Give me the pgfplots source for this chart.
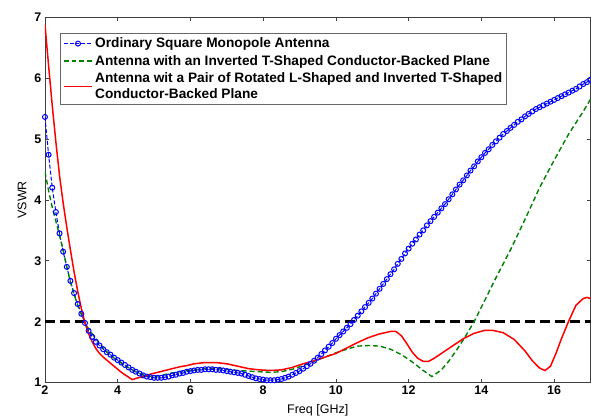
\documentclass[border=0pt]{standalone}
\usepackage{fontspec}
\setmainfont{Liberation Sans}
\usepackage{pgfplots}
\pgfplotsset{compat=1.18}
\definecolor{mgreen}{rgb}{0,0.5,0}
\pgfplotstableread{
x y
2.0 5.36
2.1 4.74
2.2 4.20
2.3 3.80
2.4 3.45
2.5 3.15
2.6 2.90
2.7 2.67
2.8 2.47
2.9 2.29
3.0 2.13
3.1 1.98
3.2 1.85
3.3 1.75
3.4 1.67
3.5 1.61
3.6 1.55
3.7 1.50
3.8 1.46
3.9 1.41
4.0 1.37
4.1 1.33
4.2 1.29
4.3 1.25
4.4 1.21
4.5 1.18
4.6 1.15
4.7 1.12
4.8 1.10
4.9 1.09
5.0 1.08
5.1 1.08
5.2 1.08
5.3 1.09
5.4 1.10
5.5 1.12
5.6 1.13
5.7 1.15
5.8 1.16
5.9 1.18
6.0 1.19
6.1 1.20
6.2 1.21
6.3 1.21
6.4 1.22
6.5 1.22
6.6 1.22
6.7 1.21
6.8 1.21
6.9 1.20
7.0 1.19
7.1 1.18
7.2 1.17
7.3 1.16
7.4 1.15
7.5 1.13
7.6 1.11
7.7 1.09
7.8 1.07
7.9 1.06
8.0 1.05
8.1 1.04
8.2 1.04
8.3 1.04
8.4 1.05
8.5 1.06
8.6 1.08
8.7 1.10
8.8 1.13
8.9 1.16
9.0 1.19
9.1 1.23
9.2 1.27
9.3 1.31
9.4 1.36
9.5 1.41
9.6 1.47
9.7 1.53
9.8 1.59
9.9 1.65
10.0 1.72
10.1 1.78
10.2 1.84
10.3 1.90
10.4 1.96
10.5 2.03
10.6 2.10
10.7 2.17
10.8 2.24
10.9 2.31
11.0 2.38
11.1 2.46
11.2 2.54
11.3 2.62
11.4 2.70
11.5 2.78
11.6 2.86
11.7 2.95
11.8 3.03
11.9 3.12
12.0 3.20
12.1 3.28
12.2 3.35
12.3 3.43
12.4 3.50
12.5 3.58
12.6 3.65
12.7 3.72
12.8 3.79
12.9 3.86
13.0 3.93
13.1 4.01
13.2 4.09
13.3 4.17
13.4 4.25
13.5 4.32
13.6 4.40
13.7 4.48
13.8 4.55
13.9 4.63
14.0 4.70
14.1 4.77
14.2 4.83
14.3 4.90
14.4 4.96
14.5 5.02
14.6 5.08
14.7 5.13
14.8 5.18
14.9 5.23
15.0 5.28
15.1 5.32
15.2 5.37
15.3 5.41
15.4 5.45
15.5 5.49
15.6 5.52
15.7 5.55
15.8 5.58
15.9 5.61
16.0 5.64
16.1 5.67
16.2 5.70
16.3 5.73
16.4 5.76
16.5 5.79
16.6 5.82
16.7 5.86
16.8 5.90
16.9 5.93
17.0 5.97
}\ordinary
\pgfplotstableread{
x y
2.0 4.46
2.1 4.15
2.2 3.88
2.3 3.65
2.4 3.42
2.5 3.18
2.6 2.90
2.7 2.65
2.8 2.45
2.9 2.27
3.0 2.12
3.1 1.99
3.2 1.88
3.4 1.72
3.6 1.57
3.8 1.45
4.0 1.36
4.2 1.28
4.4 1.21
4.6 1.15
4.8 1.11
5.0 1.10
5.2 1.12
5.5 1.16
5.8 1.19
6.1 1.21
6.4 1.23
6.7 1.24
7.0 1.22
7.3 1.20
7.6 1.19
7.9 1.18
8.2 1.17
8.5 1.18
8.8 1.22
9.1 1.28
9.4 1.35
9.7 1.42
10.0 1.49
10.3 1.55
10.6 1.60
10.9 1.61
11.2 1.60
11.5 1.55
11.8 1.46
12.1 1.34
12.4 1.20
12.64 1.10
12.9 1.21
13.1 1.35
13.3 1.52
13.5 1.70
13.8 2.00
14.0 2.24
14.4 2.72
14.8 3.18
15.2 3.68
15.6 4.20
16.0 4.65
16.4 5.08
16.8 5.45
17.0 5.65
}\tshaped
\pgfplotstableread{
x y
2.0 6.88
2.1 6.20
2.2 5.55
2.3 4.95
2.4 4.40
2.5 3.95
2.6 3.55
2.7 3.18
2.8 2.82
2.9 2.50
3.0 2.22
3.1 1.98
3.2 1.80
3.3 1.67
3.4 1.56
3.5 1.48
3.6 1.42
3.7 1.37
3.8 1.32
3.9 1.27
4.0 1.22
4.1 1.17
4.2 1.13
4.3 1.09
4.4 1.05
4.5 1.07
4.7 1.10
4.9 1.14
5.1 1.17
5.3 1.20
5.5 1.23
5.7 1.26
5.9 1.28
6.1 1.31
6.4 1.33
6.7 1.33
7.0 1.31
7.3 1.27
7.6 1.23
7.9 1.21
8.2 1.20
8.5 1.21
8.8 1.25
9.1 1.31
9.4 1.36
9.7 1.42
10.0 1.48
10.3 1.57
10.6 1.66
10.9 1.74
11.2 1.80
11.5 1.84
11.65 1.84
11.8 1.77
11.95 1.64
12.1 1.50
12.25 1.40
12.4 1.35
12.55 1.35
12.7 1.40
12.9 1.48
13.2 1.60
13.5 1.72
13.8 1.81
14.1 1.86
14.3 1.86
14.6 1.82
14.9 1.71
15.2 1.52
15.4 1.36
15.6 1.24
15.75 1.20
15.9 1.27
16.05 1.48
16.2 1.72
16.4 2.01
16.6 2.27
16.8 2.38
16.9 2.40
17.0 2.38
}\rotated
\begin{document}
\begin{tikzpicture}
\useasboundingbox (-45pt,-35pt) rectangle (546.5pt,383pt);
\begin{axis}[
  scale only axis, width=546pt, height=366pt,
  at={(0,0)}, anchor=south west,
  xmin=2, xmax=17, ymin=1, ymax=7,
  xtick={2,4,...,16}, ytick={1,2,...,7},
  tick align=inside, tick pos=both,
  major tick length=4pt,
  axis line style={black!75, line width=0.6pt},
  tick style={black!75, line width=0.6pt},
  /pgf/number format/assume math mode=true,
  ticklabel style={font=\bfseries\fontsize{12.5}{12.5}\selectfont},
  xlabel={Freq [GHz]}, ylabel={VSWR},
  label style={font=\fontsize{12.5}{13}\selectfont},
  xlabel style={at={(axis description cs:0.5,-0.0765)}, anchor=center},
  ylabel style={at={(axis description cs:-0.042,0.5)}, anchor=center},
  legend style={at={(0.0275,0.956)}, anchor=north west, draw=black!60,
    line width=0.6pt,
    font=\bfseries\fontsize{13.7}{16}\selectfont,
    cells={anchor=west, align=left}, inner sep=2.5pt, row sep=2pt},
  legend image code/.code={\draw[mark repeat=2, mark phase=2, #1] plot coordinates {(0pt,0pt) (14.5pt,0pt) (29pt,0pt)};},
]
\addplot[black, line width=3pt, dash pattern=on 10pt off 5pt, forget plot] coordinates {(2,2) (17,2)};
\addplot[blue, line width=1pt, dash pattern=on 4pt off 2pt, mark=o, mark size=2.5pt, mark options={solid, line width=1pt}] table {\ordinary};
\addplot[mgreen, line width=1.4pt, dash pattern=on 5pt off 3pt] table {\tshaped};
\addplot[red, line width=1.5pt] table {\rotated};
\legend{Ordinary Square Monopole Antenna, Antenna with an Inverted T-Shaped Conductor-Backed Plane, {Antenna wit a Pair of Rotated L-Shaped and Inverted T-Shaped\\Conductor-Backed Plane}}
\end{axis}
\end{tikzpicture}
\end{document}
